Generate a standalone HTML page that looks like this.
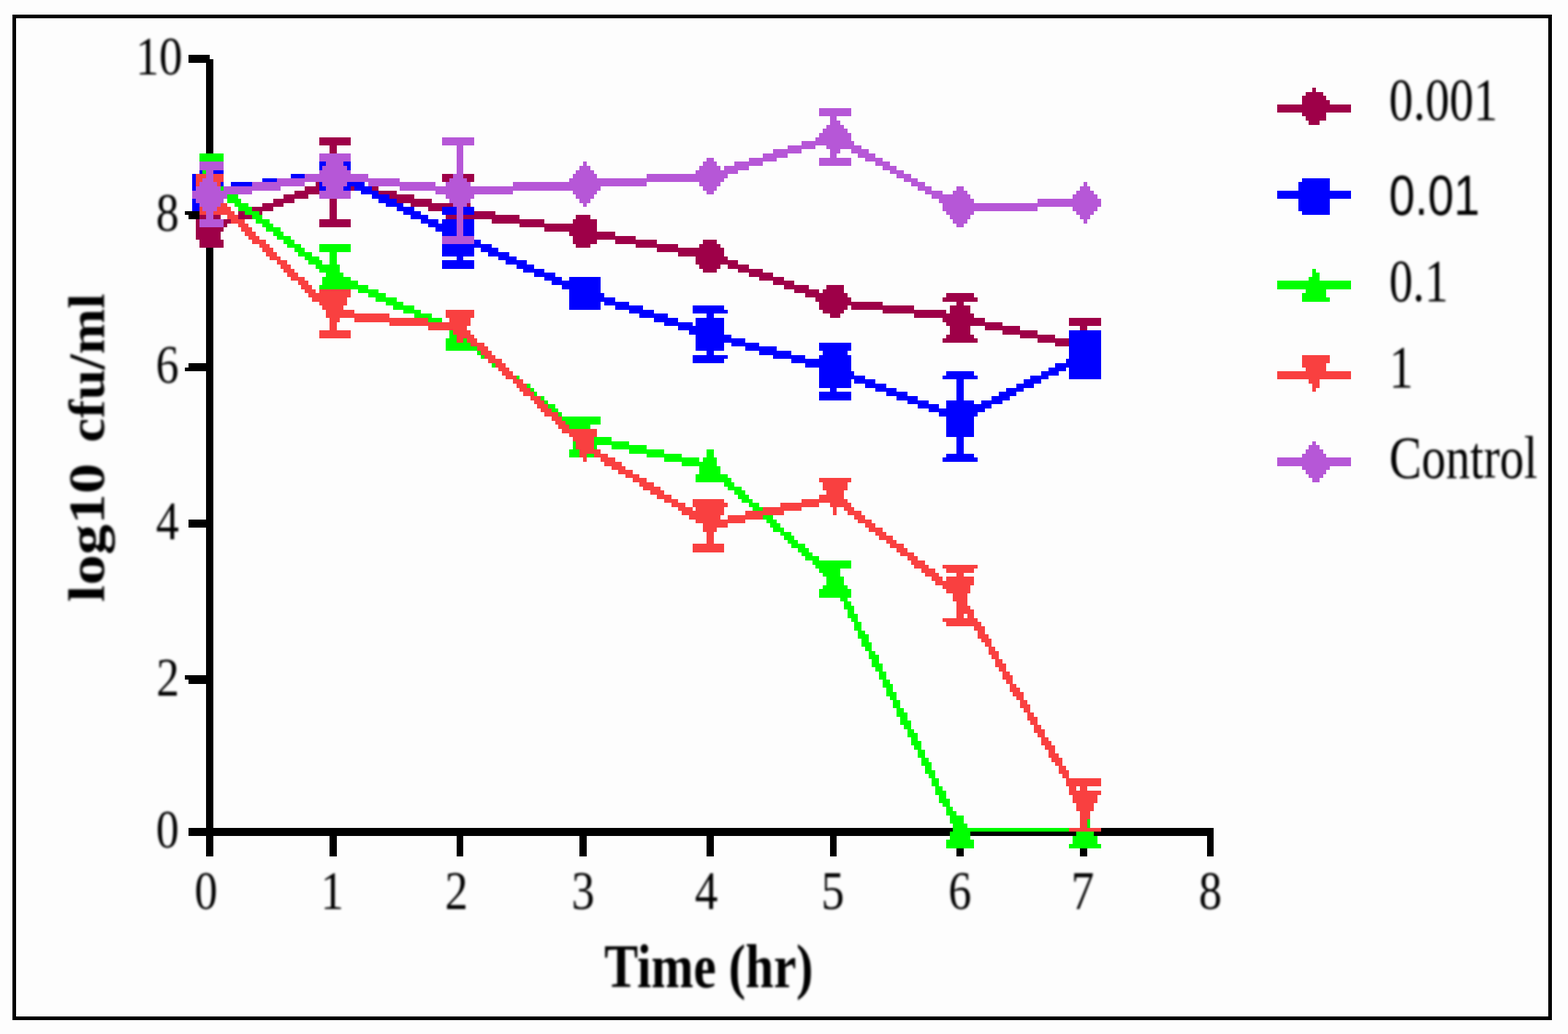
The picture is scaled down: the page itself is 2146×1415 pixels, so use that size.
<!DOCTYPE html>
<html lang="en">
<head>
<meta charset="utf-8">
<title>Time-kill curve: log10 cfu/ml vs Time (hr)</title>
<style>
html,body{margin:0;padding:0;background:#fdfdfd;}
body{width:2146px;height:1415px;overflow:hidden;}
svg{display:block;}
</style>
</head>
<body>
<svg width="2146" height="1415" viewBox="0 0 2146 1415" font-family="'Liberation Serif', serif" fill="#000">
<defs><filter id="soft" x="0" y="0" width="2146" height="1415" filterUnits="userSpaceOnUse"><feGaussianBlur stdDeviation="1.4"/></filter></defs>
<rect x="0" y="0" width="2146" height="1415" fill="#fdfdfd"/>
<g shape-rendering="crispEdges">
<rect x="19.5" y="22.5" width="2102.2" height="1371" fill="none" stroke="#000" stroke-width="5"/>
<path fill="#000000" d="M258.14 75H287.07V80.62H258.14ZM258.14 80.62H291.89V86.25H258.14ZM282.25 86.25H291.89V210H282.25ZM253.32 288.75H272.61V294.38H253.32ZM258.14 294.38H272.61V300H258.14ZM282.25 339.38H291.89V496.88H282.25ZM258.14 496.88H291.89V502.5H258.14ZM253.32 502.5H291.89V508.12H253.32ZM282.25 508.12H291.89V710.62H282.25ZM258.14 710.62H291.89V721.88H258.14ZM282.25 721.88H291.89V924.38H282.25ZM253.32 924.38H291.89V930H253.32ZM258.14 930H291.89V935.62H258.14ZM282.25 935.62H291.89V1132.5H282.25ZM258.14 1132.5H1304.37V1138.12H258.14ZM1506.86 1132.5H1661.14V1138.12H1506.86ZM258.14 1138.12H1299.54V1143.75H258.14ZM1328.47 1138.12H1473.11V1143.75H1328.47ZM1497.22 1138.12H1661.14V1143.75H1497.22ZM282.25 1143.75H291.89V1171.88H282.25ZM451 1143.75H460.64V1171.88H451ZM624.56 1143.75H634.2V1171.88H624.56ZM793.31 1143.75H802.95V1171.88H793.31ZM966.87 1143.75H976.52V1171.88H966.87ZM1135.62 1143.75H1145.26V1171.88H1135.62ZM1651.5 1143.75H1661.14V1171.88H1651.5ZM1309.19 1160.62H1318.83V1171.88H1309.19ZM1477.93 1160.62H1487.58V1171.88H1477.93Z"/>
<path fill="#9e0048" d="M1796.14 120H1800.96V125.62H1796.14ZM1786.5 125.62H1810.6V131.25H1786.5ZM1781.67 131.25H1815.42V136.88H1781.67ZM1781.67 136.88H1820.24V142.5H1781.67ZM1747.93 142.5H1849.17V153.75H1747.93ZM1781.67 153.75H1815.42V159.38H1781.67ZM1786.5 159.38H1815.42V165H1786.5ZM1791.32 165H1805.78V170.62H1791.32ZM436.53 187.5H479.92V198.75H436.53ZM451 198.75H460.64V210H451ZM605.28 238.12H619.74V243.75H605.28ZM634.2 238.12H648.67V243.75H634.2ZM605.28 243.75H614.92V249.38H605.28ZM639.03 243.75H648.67V249.38H639.03ZM431.71 249.38H436.53V255H431.71ZM417.25 255H436.53V260.62H417.25ZM479.92 255H484.74V260.62H479.92ZM508.85 255H518.49V260.62H508.85ZM402.78 260.62H436.53V266.25H402.78ZM518.49 260.62H542.6V266.25H518.49ZM388.32 266.25H422.07V271.88H388.32ZM532.96 266.25H566.71V271.88H532.96ZM373.85 271.88H402.78V277.5H373.85ZM451 271.88H460.64V300H451ZM542.6 271.88H590.81V277.5H542.6ZM359.39 277.5H388.32V283.12H359.39ZM561.89 277.5H619.74V283.12H561.89ZM639.03 277.5H643.85V283.12H639.03ZM344.93 283.12H373.85V288.75H344.93ZM585.99 283.12H605.28V288.75H585.99ZM325.64 288.75H335.28V294.38H325.64ZM354.57 288.75H359.39V294.38H354.57ZM648.67 288.75H677.6V294.38H648.67ZM272.61 294.38H282.25V300H272.61ZM291.89 294.38H301.54V300H291.89ZM325.64 294.38H344.93V300H325.64ZM610.1 294.38H624.56V300H610.1ZM634.2 294.38H711.35V300H634.2ZM788.49 294.38H807.77V300H788.49ZM267.79 300H272.61V311.25H267.79ZM306.36 300H316V305.62H306.36ZM436.53 300H479.92V311.25H436.53ZM672.78 300H745.09V305.62H672.78ZM783.67 300H817.41V305.62H783.67ZM306.36 305.62H311.18V311.25H306.36ZM711.35 305.62H817.41V311.25H711.35ZM267.79 311.25H306.36V316.88H267.79ZM745.09 311.25H817.41V316.88H745.09ZM267.79 316.88H301.54V328.12H267.79ZM778.84 316.88H841.52V322.5H778.84ZM783.67 322.5H870.45V328.12H783.67ZM272.61 328.12H306.36V339.38H272.61ZM783.67 328.12H817.41V333.75H783.67ZM841.52 328.12H899.38V333.75H841.52ZM962.05 328.12H981.34V333.75H962.05ZM788.49 333.75H807.77V339.38H788.49ZM870.45 333.75H928.3V339.38H870.45ZM957.23 333.75H986.16V339.38H957.23ZM899.38 339.38H990.98V345H899.38ZM928.3 345H990.98V350.62H928.3ZM952.41 350.62H995.8V356.25H952.41ZM952.41 356.25H1010.27V361.88H952.41ZM957.23 361.88H986.16V367.5H957.23ZM995.8 361.88H1024.73V367.5H995.8ZM962.05 367.5H981.34V373.12H962.05ZM1010.27 367.5H1044.02V373.12H1010.27ZM1024.73 373.12H1058.48V378.75H1024.73ZM1039.19 378.75H1072.94V384.38H1039.19ZM1058.48 384.38H1087.41V390H1058.48ZM1072.94 390H1106.69V395.62H1072.94ZM1130.8 390H1154.91V395.62H1130.8ZM1087.41 395.62H1121.16V401.25H1087.41ZM1125.98 395.62H1154.91V401.25H1125.98ZM1101.87 401.25H1159.73V406.88H1101.87ZM1294.72 401.25H1333.29V406.88H1294.72ZM1116.33 406.88H1164.55V412.5H1116.33ZM1289.9 406.88H1338.11V412.5H1289.9ZM1121.16 412.5H1207.94V418.12H1121.16ZM1309.19 412.5H1318.83V418.12H1309.19ZM1121.16 418.12H1159.73V423.75H1121.16ZM1164.55 418.12H1251.33V423.75H1164.55ZM1299.54 418.12H1328.47V429.38H1299.54ZM1125.98 423.75H1154.91V429.38H1125.98ZM1207.94 423.75H1294.72V429.38H1207.94ZM1135.62 429.38H1150.08V435H1135.62ZM1251.33 429.38H1333.29V435H1251.33ZM1289.9 435H1347.76V440.62H1289.9ZM1463.47 435H1506.86V446.25H1463.47ZM1294.72 440.62H1371.86V446.25H1294.72ZM1299.54 446.25H1328.47V457.5H1299.54ZM1347.76 446.25H1395.97V451.88H1347.76ZM1477.93 446.25H1487.58V451.88H1477.93ZM1371.86 451.88H1420.08V457.5H1371.86ZM1294.72 457.5H1333.29V463.12H1294.72ZM1395.97 457.5H1444.18V463.12H1395.97ZM1289.9 463.12H1338.11V468.75H1289.9ZM1420.08 463.12H1463.47V468.75H1420.08ZM1444.18 468.75H1463.47V474.38H1444.18Z"/>
<path fill="#0000ff" d="M436.53 221.25H446.17V226.88H436.53ZM470.28 221.25H479.92V226.88H470.28ZM436.53 226.88H441.35V232.5H436.53ZM475.1 226.88H479.92V232.5H475.1ZM272.61 232.5H277.43V238.12H272.61ZM291.89 232.5H306.36V238.12H291.89ZM262.96 238.12H267.79V260.62H262.96ZM397.96 238.12H417.25V243.75H397.96ZM359.39 243.75H378.68V249.38H359.39ZM1781.67 243.75H1820.24V249.38H1781.67ZM301.54 249.38H306.36V255H301.54ZM316 249.38H344.93V255H316ZM436.53 249.38H441.35V255H436.53ZM475.1 249.38H499.21V255H475.1ZM1776.85 249.38H1820.24V260.62H1776.85ZM436.53 255H446.17V260.62H436.53ZM470.28 255H479.92V260.62H470.28ZM484.74 255H508.85V260.62H484.74ZM494.39 260.62H518.49V266.25H494.39ZM1747.93 260.62H1849.17V271.88H1747.93ZM508.85 266.25H532.96V271.88H508.85ZM262.96 271.88H267.79V277.5H262.96ZM518.49 271.88H542.6V277.5H518.49ZM1776.85 271.88H1820.24V288.75H1776.85ZM262.96 277.5H272.61V288.75H262.96ZM528.14 277.5H552.24V283.12H528.14ZM542.6 283.12H566.71V288.75H542.6ZM605.28 283.12H624.56V294.38H605.28ZM634.2 283.12H648.67V294.38H634.2ZM552.24 288.75H576.35V294.38H552.24ZM1781.67 288.75H1820.24V294.38H1781.67ZM561.89 294.38H585.99V300H561.89ZM576.35 300H600.46V305.62H576.35ZM605.28 300H624.56V305.62H605.28ZM634.2 300H648.67V322.5H634.2ZM585.99 305.62H624.56V311.25H585.99ZM595.63 311.25H624.56V316.88H595.63ZM605.28 316.88H624.56V322.5H605.28ZM648.67 328.12H658.31V333.75H648.67ZM605.28 333.75H672.78V339.38H605.28ZM605.28 339.38H648.67V350.62H605.28ZM658.31 339.38H682.42V345H658.31ZM667.95 345H696.88V350.62H667.95ZM624.56 350.62H634.2V356.25H624.56ZM682.42 350.62H706.52V356.25H682.42ZM605.28 356.25H648.67V367.5H605.28ZM692.06 356.25H720.99V361.88H692.06ZM706.52 361.88H730.63V367.5H706.52ZM716.17 367.5H745.09V373.12H716.17ZM730.63 373.12H759.56V378.75H730.63ZM745.09 378.75H769.2V384.38H745.09ZM778.84 378.75H822.24V384.38H778.84ZM754.74 384.38H822.24V390H754.74ZM769.2 390H822.24V395.62H769.2ZM778.84 395.62H822.24V401.25H778.84ZM778.84 401.25H827.06V406.88H778.84ZM778.84 406.88H841.52V412.5H778.84ZM778.84 412.5H822.24V423.75H778.84ZM827.06 412.5H860.81V418.12H827.06ZM841.52 418.12H880.09V423.75H841.52ZM947.59 418.12H990.98V423.75H947.59ZM860.81 423.75H894.56V429.38H860.81ZM947.59 423.75H995.8V429.38H947.59ZM875.27 429.38H913.84V435H875.27ZM966.87 429.38H976.52V435H966.87ZM894.56 435H928.3V440.62H894.56ZM952.41 435H990.98V446.25H952.41ZM909.02 440.62H947.59V446.25H909.02ZM928.3 446.25H990.98V451.88H928.3ZM942.77 451.88H990.98V457.5H942.77ZM1463.47 451.88H1506.86V491.25H1463.47ZM952.41 457.5H1000.62V463.12H952.41ZM952.41 463.12H1019.91V468.75H952.41ZM952.41 468.75H990.98V480H952.41ZM1000.62 468.75H1039.19V474.38H1000.62ZM1121.16 468.75H1164.55V480H1121.16ZM1019.91 474.38H1063.3V480H1019.91ZM966.87 480H976.52V485.62H966.87ZM1039.19 480H1082.59V485.62H1039.19ZM1125.98 480H1159.73V485.62H1125.98ZM947.59 485.62H995.8V491.25H947.59ZM1058.48 485.62H1101.87V491.25H1058.48ZM1121.16 485.62H1164.55V491.25H1121.16ZM947.59 491.25H990.98V496.88H947.59ZM1082.59 491.25H1164.55V496.88H1082.59ZM1458.65 491.25H1506.86V496.88H1458.65ZM1101.87 496.88H1164.55V502.5H1101.87ZM1444.18 496.88H1506.86V502.5H1444.18ZM1121.16 502.5H1164.55V508.12H1121.16ZM1434.54 502.5H1458.65V508.12H1434.54ZM1463.47 502.5H1506.86V519.38H1463.47ZM1121.16 508.12H1169.37V513.75H1121.16ZM1294.72 508.12H1333.29V513.75H1294.72ZM1424.9 508.12H1449V513.75H1424.9ZM1121.16 513.75H1183.83V519.38H1121.16ZM1289.9 513.75H1338.11V519.38H1289.9ZM1410.43 513.75H1434.54V519.38H1410.43ZM1121.16 519.38H1164.55V530.62H1121.16ZM1169.37 519.38H1198.3V525H1169.37ZM1309.19 519.38H1318.83V547.5H1309.19ZM1400.79 519.38H1424.9V525H1400.79ZM1183.83 525H1212.76V530.62H1183.83ZM1391.15 525H1415.26V530.62H1391.15ZM1135.62 530.62H1145.26V536.25H1135.62ZM1198.3 530.62H1227.22V536.25H1198.3ZM1376.69 530.62H1400.79V536.25H1376.69ZM1121.16 536.25H1164.55V547.5H1121.16ZM1212.76 536.25H1241.69V541.88H1212.76ZM1367.04 536.25H1391.15V541.88H1367.04ZM1227.22 541.88H1256.15V547.5H1227.22ZM1357.4 541.88H1381.51V547.5H1357.4ZM1241.69 547.5H1270.62V553.12H1241.69ZM1294.72 547.5H1333.29V553.12H1294.72ZM1342.94 547.5H1371.86V553.12H1342.94ZM1256.15 553.12H1285.08V558.75H1256.15ZM1294.72 553.12H1357.4V558.75H1294.72ZM1270.62 558.75H1347.76V564.38H1270.62ZM1285.08 564.38H1338.11V570H1285.08ZM1294.72 570H1333.29V598.12H1294.72ZM1309.19 598.12H1318.83V620.62H1309.19ZM1294.72 620.62H1333.29V626.25H1294.72ZM1289.9 626.25H1338.11V631.88H1289.9Z"/>
<path fill="#00ff00" d="M272.61 210H306.36V221.25H272.61ZM277.43 232.5H282.25V238.12H277.43ZM301.54 255H306.36V260.62H301.54ZM311.18 266.25H325.64V271.88H311.18ZM311.18 271.88H330.46V277.5H311.18ZM320.82 277.5H340.11V283.12H320.82ZM325.64 283.12H344.93V288.75H325.64ZM335.28 288.75H354.57V294.38H335.28ZM344.93 294.38H359.39V300H344.93ZM349.75 300H369.03V305.62H349.75ZM359.39 305.62H373.85V311.25H359.39ZM364.21 311.25H383.5V316.88H364.21ZM373.85 316.88H388.32V322.5H373.85ZM378.68 322.5H397.96V328.12H378.68ZM388.32 328.12H402.78V333.75H388.32ZM393.14 333.75H412.43V339.38H393.14ZM436.53 333.75H479.92V345H436.53ZM402.78 339.38H417.25V345H402.78ZM407.6 345H426.89V350.62H407.6ZM451 345H460.64V361.88H451ZM417.25 350.62H436.53V356.25H417.25ZM422.07 356.25H441.35V361.88H422.07ZM431.71 361.88H465.46V367.5H431.71ZM436.53 367.5H465.46V373.12H436.53ZM1796.14 367.5H1800.96V373.12H1796.14ZM446.17 373.12H470.28V378.75H446.17ZM1796.14 373.12H1805.78V378.75H1796.14ZM441.35 378.75H479.92V384.38H441.35ZM1791.32 378.75H1805.78V384.38H1791.32ZM441.35 384.38H489.57V390H441.35ZM1747.93 384.38H1849.17V395.62H1747.93ZM436.53 390H504.03V395.62H436.53ZM489.57 395.62H518.49V401.25H489.57ZM1786.5 395.62H1815.42V401.25H1786.5ZM504.03 401.25H528.14V406.88H504.03ZM1781.67 401.25H1815.42V406.88H1781.67ZM513.67 406.88H542.6V412.5H513.67ZM1781.67 406.88H1820.24V412.5H1781.67ZM528.14 412.5H552.24V418.12H528.14ZM537.78 418.12H566.71V423.75H537.78ZM552.24 423.75H576.35V429.38H552.24ZM566.71 429.38H590.81V435H566.71ZM585.99 435H605.28V440.62H585.99ZM614.92 451.88H619.74V457.5H614.92ZM614.92 457.5H624.56V463.12H614.92ZM610.1 463.12H624.56V468.75H610.1ZM634.2 463.12H639.03V468.75H634.2ZM610.1 468.75H643.85V474.38H610.1ZM610.1 474.38H653.49V480H610.1ZM653.49 480H658.31V485.62H653.49ZM658.31 485.62H663.13V491.25H658.31ZM672.78 496.88H677.6V502.5H672.78ZM706.52 513.75H711.35V519.38H706.52ZM720.99 525H725.81V530.62H720.99ZM725.81 530.62H730.63V536.25H725.81ZM730.63 536.25H735.45V541.88H730.63ZM740.27 541.88H745.09V547.5H740.27ZM745.09 547.5H749.92V553.12H745.09ZM749.92 553.12H759.56V558.75H749.92ZM754.74 558.75H764.38V564.38H754.74ZM764.38 564.38H769.2V570H764.38ZM769.2 570H822.24V575.62H769.2ZM774.02 575.62H822.24V581.25H774.02ZM778.84 581.25H807.77V586.88H778.84ZM812.59 598.12H836.7V603.75H812.59ZM783.67 603.75H788.49V615H783.67ZM812.59 603.75H860.81V609.38H812.59ZM812.59 609.38H817.41V615H812.59ZM836.7 609.38H884.91V615H836.7ZM778.84 615H793.31V626.25H778.84ZM860.81 615H909.02V620.62H860.81ZM966.87 615H976.52V626.25H966.87ZM802.95 620.62H812.59V626.25H802.95ZM884.91 620.62H933.13V626.25H884.91ZM909.02 626.25H957.23V631.88H909.02ZM962.05 626.25H981.34V631.88H962.05ZM933.13 631.88H981.34V637.5H933.13ZM957.23 637.5H986.16V648.75H957.23ZM952.41 648.75H995.8V654.38H952.41ZM952.41 654.38H1000.62V660H952.41ZM990.98 660H1005.44V665.62H990.98ZM995.8 665.62H1015.09V671.25H995.8ZM1005.44 671.25H1019.91V676.88H1005.44ZM1010.27 676.88H1024.73V682.5H1010.27ZM1015.09 682.5H1029.55V688.12H1015.09ZM1024.73 688.12H1039.19V693.75H1024.73ZM1029.55 693.75H1044.02V699.38H1029.55ZM1044.02 705H1058.48V710.62H1044.02ZM1048.84 710.62H1063.3V716.25H1048.84ZM1053.66 716.25H1068.12V721.88H1053.66ZM1058.48 721.88H1072.94V727.5H1058.48ZM1068.12 727.5H1082.59V733.12H1068.12ZM1072.94 733.12H1087.41V738.75H1072.94ZM1077.76 738.75H1092.23V744.38H1077.76ZM1082.59 744.38H1101.87V750H1082.59ZM1092.23 750H1106.69V755.62H1092.23ZM1097.05 755.62H1111.51V761.25H1097.05ZM1101.87 761.25H1121.16V766.88H1101.87ZM1111.51 766.88H1164.55V772.5H1111.51ZM1116.33 772.5H1164.55V778.12H1116.33ZM1121.16 778.12H1150.08V783.75H1121.16ZM1125.98 783.75H1150.08V789.38H1125.98ZM1130.8 789.38H1154.91V800.62H1130.8ZM1125.98 800.62H1159.73V806.25H1125.98ZM1121.16 806.25H1164.55V817.5H1121.16ZM1150.08 817.5H1159.73V823.12H1150.08ZM1154.91 823.12H1164.55V828.75H1154.91ZM1154.91 828.75H1169.37V834.38H1154.91ZM1159.73 834.38H1169.37V840H1159.73ZM1159.73 840H1174.19V845.62H1159.73ZM1164.55 845.62H1174.19V851.25H1164.55ZM1169.37 851.25H1179.01V862.5H1169.37ZM1174.19 862.5H1183.83V868.12H1174.19ZM1174.19 868.12H1188.65V873.75H1174.19ZM1179.01 873.75H1188.65V879.38H1179.01ZM1179.01 879.38H1193.48V885H1179.01ZM1183.83 885H1193.48V890.62H1183.83ZM1188.65 890.62H1198.3V896.25H1188.65ZM1188.65 896.25H1203.12V901.88H1188.65ZM1193.48 901.88H1203.12V907.5H1193.48ZM1193.48 907.5H1207.94V913.12H1193.48ZM1198.3 913.12H1207.94V918.75H1198.3ZM1203.12 918.75H1212.76V930H1203.12ZM1207.94 930H1217.58V935.62H1207.94ZM1207.94 935.62H1222.4V941.25H1207.94ZM1212.76 941.25H1222.4V946.88H1212.76ZM1212.76 946.88H1227.22V952.5H1212.76ZM1217.58 952.5H1227.22V958.12H1217.58ZM1222.4 958.12H1232.05V969.38H1222.4ZM1227.22 969.38H1236.87V975H1227.22ZM1227.22 975H1241.69V980.62H1227.22ZM1232.05 980.62H1241.69V986.25H1232.05ZM1232.05 986.25H1246.51V991.88H1232.05ZM1236.87 991.88H1246.51V997.5H1236.87ZM1241.69 997.5H1251.33V1003.12H1241.69ZM1241.69 1003.12H1256.15V1008.75H1241.69ZM1246.51 1008.75H1256.15V1014.38H1246.51ZM1246.51 1014.38H1260.97V1020H1246.51ZM1251.33 1020H1260.97V1025.62H1251.33ZM1256.15 1025.62H1265.8V1036.88H1256.15ZM1260.97 1036.88H1270.62V1042.5H1260.97ZM1260.97 1042.5H1275.44V1048.12H1260.97ZM1265.8 1048.12H1275.44V1053.75H1265.8ZM1265.8 1053.75H1280.26V1059.38H1265.8ZM1270.62 1059.38H1280.26V1065H1270.62ZM1275.44 1065H1285.08V1076.25H1275.44ZM1280.26 1076.25H1289.9V1081.88H1280.26ZM1280.26 1081.88H1294.72V1087.5H1280.26ZM1285.08 1087.5H1294.72V1093.12H1285.08ZM1285.08 1093.12H1299.54V1098.75H1285.08ZM1289.9 1098.75H1299.54V1104.38H1289.9ZM1294.72 1104.38H1304.37V1110H1294.72ZM1294.72 1110H1309.19V1115.62H1294.72ZM1299.54 1115.62H1318.83V1126.88H1299.54ZM1487.58 1121.25H1492.4V1132.5H1487.58ZM1304.37 1126.88H1323.65V1132.5H1304.37ZM1304.37 1132.5H1463.47V1138.12H1304.37ZM1299.54 1138.12H1328.47V1149.38H1299.54ZM1473.11 1138.12H1497.22V1143.75H1473.11ZM1468.29 1143.75H1502.04V1155H1468.29ZM1294.72 1149.38H1333.29V1160.62H1294.72ZM1463.47 1155H1506.86V1160.62H1463.47Z"/>
<path fill="#f94040" d="M267.79 238.12H282.25V243.75H267.79ZM291.89 238.12H306.36V249.38H291.89ZM267.79 243.75H277.43V249.38H267.79ZM267.79 249.38H272.61V255H267.79ZM296.71 249.38H301.54V255H296.71ZM301.54 277.5H311.18V283.12H301.54ZM272.61 283.12H277.43V288.75H272.61ZM296.71 283.12H316V288.75H296.71ZM272.61 288.75H282.25V294.38H272.61ZM291.89 288.75H320.82V294.38H291.89ZM311.18 294.38H325.64V300H311.18ZM316 300H335.28V305.62H316ZM325.64 305.62H340.11V311.25H325.64ZM330.46 311.25H344.93V316.88H330.46ZM335.28 316.88H349.75V322.5H335.28ZM340.11 322.5H354.57V328.12H340.11ZM344.93 328.12H364.21V333.75H344.93ZM354.57 333.75H369.03V339.38H354.57ZM359.39 339.38H373.85V345H359.39ZM364.21 345H378.68V350.62H364.21ZM369.03 350.62H383.5V356.25H369.03ZM378.68 356.25H393.14V361.88H378.68ZM383.5 361.88H397.96V367.5H383.5ZM388.32 367.5H402.78V373.12H388.32ZM393.14 373.12H407.6V378.75H393.14ZM397.96 378.75H417.25V384.38H397.96ZM407.6 384.38H422.07V390H407.6ZM412.43 390H426.89V395.62H412.43ZM417.25 395.62H431.71V401.25H417.25ZM436.53 395.62H479.92V401.25H436.53ZM422.07 401.25H479.92V406.88H422.07ZM426.89 406.88H475.1V412.5H426.89ZM436.53 412.5H475.1V418.12H436.53ZM441.35 418.12H470.28V423.75H441.35ZM446.17 423.75H484.74V429.38H446.17ZM610.1 423.75H648.67V435H610.1ZM446.17 429.38H532.96V435H446.17ZM451 435H465.46V440.62H451ZM484.74 435H585.99V440.62H484.74ZM614.92 435H643.85V440.62H614.92ZM451 440.62H460.64V451.88H451ZM532.96 440.62H643.85V446.25H532.96ZM585.99 446.25H639.03V451.88H585.99ZM436.53 451.88H479.92V463.12H436.53ZM619.74 451.88H643.85V457.5H619.74ZM624.56 457.5H648.67V463.12H624.56ZM624.56 463.12H634.2V468.75H624.56ZM639.03 463.12H653.49V468.75H639.03ZM643.85 468.75H663.13V474.38H643.85ZM653.49 474.38H667.95V480H653.49ZM658.31 480H672.78V485.62H658.31ZM663.13 485.62H677.6V491.25H663.13ZM1781.67 485.62H1820.24V496.88H1781.67ZM667.95 491.25H687.24V496.88H667.95ZM677.6 496.88H692.06V502.5H677.6ZM1781.67 496.88H1815.42V502.5H1781.67ZM682.42 502.5H696.88V508.12H682.42ZM1786.5 502.5H1815.42V508.12H1786.5ZM687.24 508.12H701.7V513.75H687.24ZM1747.93 508.12H1849.17V519.38H1747.93ZM692.06 513.75H706.52V519.38H692.06ZM701.7 519.38H716.17V525H701.7ZM1791.32 519.38H1805.78V525H1791.32ZM706.52 525H720.99V530.62H706.52ZM1796.14 525H1805.78V530.62H1796.14ZM711.35 530.62H725.81V536.25H711.35ZM1796.14 530.62H1800.96V536.25H1796.14ZM716.17 536.25H730.63V541.88H716.17ZM725.81 541.88H740.27V547.5H725.81ZM730.63 547.5H745.09V553.12H730.63ZM735.45 553.12H749.92V558.75H735.45ZM740.27 558.75H754.74V564.38H740.27ZM745.09 564.38H764.38V570H745.09ZM754.74 570H769.2V575.62H754.74ZM759.56 575.62H774.02V581.25H759.56ZM764.38 581.25H778.84V586.88H764.38ZM769.2 586.88H817.41V592.5H769.2ZM778.84 592.5H817.41V598.12H778.84ZM783.67 598.12H812.59V603.75H783.67ZM788.49 603.75H812.59V615H788.49ZM793.31 615H822.24V620.62H793.31ZM793.31 620.62H802.95V626.25H793.31ZM812.59 620.62H831.88V626.25H812.59ZM798.13 626.25H802.95V631.88H798.13ZM822.24 626.25H841.52V631.88H822.24ZM827.06 631.88H851.16V637.5H827.06ZM836.7 637.5H855.98V643.12H836.7ZM846.34 643.12H865.63V648.75H846.34ZM855.98 648.75H875.27V654.38H855.98ZM865.63 654.38H884.91V660H865.63ZM1121.16 654.38H1164.55V660H1121.16ZM875.27 660H894.56V665.62H875.27ZM1125.98 660H1159.73V671.25H1125.98ZM880.09 665.62H904.2V671.25H880.09ZM889.73 671.25H909.02V676.88H889.73ZM1130.8 671.25H1154.91V676.88H1130.8ZM899.38 676.88H918.66V682.5H899.38ZM1121.16 676.88H1154.91V682.5H1121.16ZM909.02 682.5H928.3V688.12H909.02ZM947.59 682.5H990.98V688.12H947.59ZM1097.05 682.5H1159.73V688.12H1097.05ZM918.66 688.12H937.95V693.75H918.66ZM947.59 688.12H995.8V693.75H947.59ZM1068.12 688.12H1121.16V693.75H1068.12ZM1135.62 688.12H1164.55V693.75H1135.62ZM928.3 693.75H947.59V699.38H928.3ZM952.41 693.75H990.98V699.38H952.41ZM1044.02 693.75H1097.05V699.38H1044.02ZM1140.44 693.75H1145.26V705H1140.44ZM1154.91 693.75H1169.37V699.38H1154.91ZM933.13 699.38H990.98V705H933.13ZM1019.91 699.38H1072.94V705H1019.91ZM1159.73 699.38H1179.01V705H1159.73ZM942.77 705H986.16V710.62H942.77ZM995.8 705H1044.02V710.62H995.8ZM1169.37 705H1183.83V710.62H1169.37ZM952.41 710.62H1019.91V716.25H952.41ZM1174.19 710.62H1193.48V716.25H1174.19ZM962.05 716.25H995.8V721.88H962.05ZM1183.83 716.25H1198.3V721.88H1183.83ZM962.05 721.88H981.34V727.5H962.05ZM1188.65 721.88H1207.94V727.5H1188.65ZM966.87 727.5H976.52V744.38H966.87ZM1198.3 727.5H1212.76V733.12H1198.3ZM1203.12 733.12H1222.4V738.75H1203.12ZM1212.76 738.75H1227.22V744.38H1212.76ZM947.59 744.38H990.98V755.62H947.59ZM1217.58 744.38H1236.87V750H1217.58ZM1227.22 750H1241.69V755.62H1227.22ZM1232.05 755.62H1251.33V761.25H1232.05ZM1241.69 761.25H1256.15V766.88H1241.69ZM1246.51 766.88H1265.8V772.5H1246.51ZM1251.33 772.5H1270.62V778.12H1251.33ZM1289.9 772.5H1338.11V778.12H1289.9ZM1260.97 778.12H1280.26V783.75H1260.97ZM1294.72 778.12H1333.29V783.75H1294.72ZM1265.8 783.75H1285.08V789.38H1265.8ZM1309.19 783.75H1318.83V789.38H1309.19ZM1275.44 789.38H1289.9V795H1275.44ZM1294.72 789.38H1333.29V795H1294.72ZM1280.26 795H1333.29V800.62H1280.26ZM1289.9 800.62H1328.47V806.25H1289.9ZM1294.72 806.25H1328.47V811.88H1294.72ZM1304.37 811.88H1323.65V823.12H1304.37ZM1309.19 823.12H1323.65V828.75H1309.19ZM1309.19 828.75H1328.47V834.38H1309.19ZM1309.19 834.38H1333.29V840H1309.19ZM1309.19 840H1318.83V845.62H1309.19ZM1323.65 840H1333.29V845.62H1323.65ZM1289.9 845.62H1338.11V851.25H1289.9ZM1294.72 851.25H1342.94V856.88H1294.72ZM1333.29 856.88H1347.76V862.5H1333.29ZM1338.11 862.5H1347.76V868.12H1338.11ZM1338.11 868.12H1352.58V873.75H1338.11ZM1342.94 873.75H1357.4V879.38H1342.94ZM1347.76 879.38H1357.4V885H1347.76ZM1352.58 885H1362.22V890.62H1352.58ZM1352.58 890.62H1367.04V896.25H1352.58ZM1357.4 896.25H1367.04V901.88H1357.4ZM1362.22 901.88H1371.86V907.5H1362.22ZM1362.22 907.5H1376.69V913.12H1362.22ZM1367.04 913.12H1376.69V918.75H1367.04ZM1371.86 918.75H1381.51V924.38H1371.86ZM1371.86 924.38H1386.33V930H1371.86ZM1376.69 930H1386.33V935.62H1376.69ZM1381.51 935.62H1391.15V941.25H1381.51ZM1381.51 941.25H1395.97V946.88H1381.51ZM1386.33 946.88H1400.79V952.5H1386.33ZM1391.15 952.5H1400.79V958.12H1391.15ZM1395.97 958.12H1405.61V963.75H1395.97ZM1395.97 963.75H1410.43V969.38H1395.97ZM1400.79 969.38H1410.43V975H1400.79ZM1405.61 975H1415.26V980.62H1405.61ZM1405.61 980.62H1420.08V986.25H1405.61ZM1410.43 986.25H1420.08V991.88H1410.43ZM1415.26 991.88H1424.9V997.5H1415.26ZM1415.26 997.5H1429.72V1003.12H1415.26ZM1420.08 1003.12H1429.72V1008.75H1420.08ZM1424.9 1008.75H1434.54V1014.38H1424.9ZM1424.9 1014.38H1439.36V1020H1424.9ZM1429.72 1020H1444.18V1025.62H1429.72ZM1434.54 1025.62H1444.18V1031.25H1434.54ZM1434.54 1031.25H1449V1036.88H1434.54ZM1439.36 1036.88H1453.83V1042.5H1439.36ZM1444.18 1042.5H1453.83V1048.12H1444.18ZM1449 1048.12H1458.65V1053.75H1449ZM1449 1053.75H1463.47V1059.38H1449ZM1453.83 1059.38H1463.47V1065H1453.83ZM1458.65 1065H1506.86V1076.25H1458.65ZM1463.47 1076.25H1473.11V1081.88H1463.47ZM1477.93 1076.25H1487.58V1081.88H1477.93ZM1463.47 1081.88H1506.86V1087.5H1463.47ZM1468.29 1087.5H1502.04V1098.75H1468.29ZM1473.11 1098.75H1497.22V1110H1473.11ZM1477.93 1110H1492.4V1121.25H1477.93ZM1477.93 1121.25H1487.58V1132.5H1477.93ZM1463.47 1132.5H1506.86V1138.12H1463.47Z"/>
<path fill="#b657d7" d="M1121.16 148.12H1164.55V159.38H1121.16ZM1135.62 159.38H1145.26V165H1135.62ZM1135.62 165H1150.08V170.62H1135.62ZM1130.8 170.62H1154.91V176.25H1130.8ZM1125.98 176.25H1159.73V181.88H1125.98ZM1121.16 181.88H1164.55V187.5H1121.16ZM605.28 187.5H648.67V198.75H605.28ZM1116.33 187.5H1164.55V193.12H1116.33ZM1097.05 193.12H1169.37V198.75H1097.05ZM624.56 198.75H634.2V238.12H624.56ZM1077.76 198.75H1116.33V204.38H1077.76ZM1130.8 198.75H1179.01V204.38H1130.8ZM1058.48 204.38H1097.05V210H1058.48ZM1135.62 204.38H1150.08V210H1135.62ZM1164.55 204.38H1188.65V210H1164.55ZM436.53 210H479.92V221.25H436.53ZM1044.02 210H1077.76V215.62H1044.02ZM1135.62 210H1145.26V215.62H1135.62ZM1174.19 210H1198.3V215.62H1174.19ZM966.87 215.62H976.52V221.25H966.87ZM1024.73 215.62H1063.3V221.25H1024.73ZM1121.16 215.62H1164.55V226.88H1121.16ZM1183.83 215.62H1207.94V221.25H1183.83ZM272.61 221.25H306.36V232.5H272.61ZM446.17 221.25H470.28V226.88H446.17ZM798.13 221.25H802.95V226.88H798.13ZM962.05 221.25H981.34V226.88H962.05ZM1005.44 221.25H1044.02V226.88H1005.44ZM1198.3 221.25H1217.58V226.88H1198.3ZM441.35 226.88H475.1V232.5H441.35ZM793.31 226.88H807.77V232.5H793.31ZM957.23 226.88H986.16V232.5H957.23ZM990.98 226.88H1024.73V232.5H990.98ZM1207.94 226.88H1227.22V232.5H1207.94ZM282.25 232.5H291.89V243.75H282.25ZM436.53 232.5H479.92V238.12H436.53ZM788.49 232.5H812.59V238.12H788.49ZM952.41 232.5H1010.27V238.12H952.41ZM1217.58 232.5H1236.87V238.12H1217.58ZM417.25 238.12H504.03V243.75H417.25ZM619.74 238.12H634.2V243.75H619.74ZM783.67 238.12H817.41V243.75H783.67ZM884.91 238.12H995.8V243.75H884.91ZM1227.22 238.12H1246.51V243.75H1227.22ZM277.43 243.75H291.89V249.38H277.43ZM378.68 243.75H547.42V249.38H378.68ZM614.92 243.75H639.03V249.38H614.92ZM778.84 243.75H990.98V249.38H778.84ZM1236.87 243.75H1256.15V249.38H1236.87ZM272.61 249.38H296.71V255H272.61ZM344.93 249.38H417.25V255H344.93ZM441.35 249.38H475.1V255H441.35ZM504.03 249.38H595.63V255H504.03ZM610.1 249.38H643.85V255H610.1ZM701.7 249.38H884.91V255H701.7ZM957.23 249.38H986.16V255H957.23ZM1246.51 249.38H1265.8V255H1246.51ZM1482.75 249.38H1487.58V255H1482.75ZM267.79 255H301.54V260.62H267.79ZM306.36 255H383.5V260.62H306.36ZM446.17 255H470.28V260.62H446.17ZM547.42 255H822.24V260.62H547.42ZM962.05 255H981.34V260.62H962.05ZM1256.15 255H1275.44V260.62H1256.15ZM1309.19 255H1318.83V260.62H1309.19ZM1477.93 255H1492.4V260.62H1477.93ZM262.96 260.62H344.93V266.25H262.96ZM436.53 260.62H479.92V271.88H436.53ZM595.63 260.62H701.7V266.25H595.63ZM783.67 260.62H817.41V266.25H783.67ZM966.87 260.62H976.52V266.25H966.87ZM1265.8 260.62H1289.9V266.25H1265.8ZM1304.37 260.62H1323.65V266.25H1304.37ZM1473.11 260.62H1497.22V266.25H1473.11ZM262.96 266.25H311.18V271.88H262.96ZM610.1 266.25H648.67V271.88H610.1ZM788.49 266.25H812.59V271.88H788.49ZM1275.44 266.25H1328.47V271.88H1275.44ZM1468.29 266.25H1502.04V271.88H1468.29ZM267.79 271.88H306.36V277.5H267.79ZM614.92 271.88H643.85V277.5H614.92ZM793.31 271.88H807.77V277.5H793.31ZM1285.08 271.88H1333.29V277.5H1285.08ZM1420.08 271.88H1506.86V277.5H1420.08ZM272.61 277.5H301.54V283.12H272.61ZM619.74 277.5H639.03V283.12H619.74ZM798.13 277.5H802.95V283.12H798.13ZM1289.9 277.5H1506.86V283.12H1289.9ZM277.43 283.12H296.71V288.75H277.43ZM624.56 283.12H634.2V322.5H624.56ZM1289.9 283.12H1420.08V288.75H1289.9ZM1468.29 283.12H1502.04V288.75H1468.29ZM282.25 288.75H291.89V300H282.25ZM1294.72 288.75H1333.29V294.38H1294.72ZM1473.11 288.75H1497.22V294.38H1473.11ZM1299.54 294.38H1328.47V300H1299.54ZM1477.93 294.38H1492.4V300H1477.93ZM272.61 300H306.36V311.25H272.61ZM1304.37 300H1323.65V305.62H1304.37ZM1482.75 300H1487.58V305.62H1482.75ZM1309.19 305.62H1318.83V311.25H1309.19ZM605.28 322.5H648.67V333.75H605.28ZM1796.14 603.75H1800.96V609.38H1796.14ZM1791.32 609.38H1805.78V615H1791.32ZM1786.5 615H1810.6V620.62H1786.5ZM1781.67 620.62H1815.42V626.25H1781.67ZM1747.93 626.25H1849.17V637.5H1747.93ZM1781.67 637.5H1820.24V643.12H1781.67ZM1786.5 643.12H1815.42V648.75H1786.5ZM1791.32 648.75H1810.6V654.38H1791.32ZM1796.14 654.38H1805.78V660H1796.14Z"/>
</g>
<g filter="url(#soft)">
<text transform="translate(185.82 102.42) scale(0.8615 1)" font-size="74.02">10</text>
<text transform="translate(213.57 316.18) scale(0.8500 1)" font-size="74.02">8</text>
<text transform="translate(213.18 524.3) scale(0.8500 1)" font-size="74.02">6</text>
<text transform="translate(213.41 738.05) scale(0.8500 1)" font-size="74.02">4</text>
<text transform="translate(213.88 951.8) scale(0.8500 1)" font-size="74.02">2</text>
<text transform="translate(213.57 1159.92) scale(0.8500 1)" font-size="74.02">0</text>
<text transform="translate(266.37 1244.3) scale(0.8500 1)" font-size="74.02">0</text>
<text transform="translate(439.11 1244.3) scale(0.8500 1)" font-size="74.02">1</text>
<text transform="translate(608.88 1244.3) scale(0.8500 1)" font-size="74.02">2</text>
<text transform="translate(782.13 1244.3) scale(0.8500 1)" font-size="74.02">3</text>
<text transform="translate(951.11 1244.3) scale(0.8500 1)" font-size="74.02">4</text>
<text transform="translate(1124.02 1244.3) scale(0.8500 1)" font-size="74.02">5</text>
<text transform="translate(1297.88 1244.3) scale(0.8500 1)" font-size="74.02">6</text>
<text transform="translate(1466.07 1244.3) scale(0.8500 1)" font-size="74.02">7</text>
<text transform="translate(1640.77 1244.3) scale(0.8500 1)" font-size="74.02">8</text>
<text transform="translate(1901.12 164.3) scale(0.8009 1)" font-size="82.48">0.001</text>
<text transform="translate(1901.05 293.68) scale(0.8106 1)" font-size="78.64" font-family="'Liberation Sans', sans-serif">0.01</text>
<text transform="translate(1901.17 411.8) scale(0.7848 1)" font-size="82.48">0.1</text>
<text transform="translate(1901.2 529.92) scale(0.8000 1)" font-size="82.48">1</text>
<text transform="translate(1901.14 653.67) scale(0.8033 1)" font-size="82.79">Control</text>
<text transform="translate(827.06 1351.17) scale(0.8286 1)" font-size="83.74" font-family="'Liberation Serif', serif" font-weight="bold">Time (hr)</text>
<text transform="translate(142.4 823.97) rotate(-90)" font-size="69.35" font-weight="bold"><tspan x="0" textLength="189.92" lengthAdjust="spacingAndGlyphs">log10</tspan><tspan> </tspan><tspan x="218.55" textLength="203.78" lengthAdjust="spacingAndGlyphs">cfu/ml</tspan></text>
</g>
</svg>
</body>
</html>
